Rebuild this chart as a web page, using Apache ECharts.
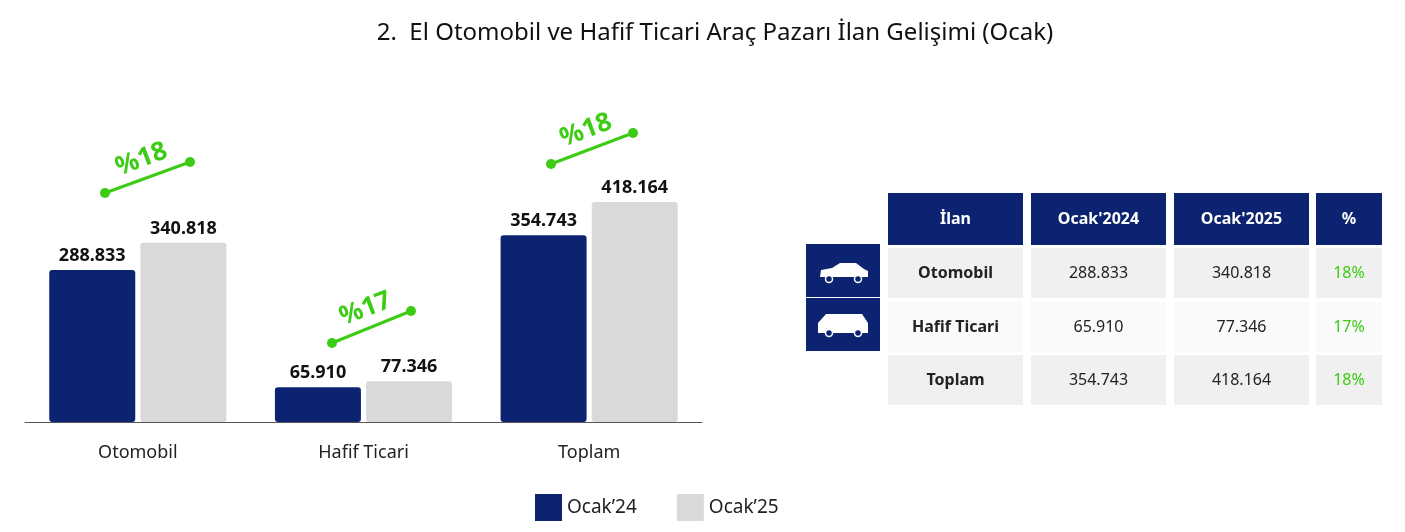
<!DOCTYPE html>
<html><head><meta charset="utf-8">
<script src="https://cdn.jsdelivr.net/npm/echarts@6/dist/echarts.min.js"></script>
<style>html,body{margin:0;background:#fff}#c{width:1405px;height:532px}</style>
</head><body><div id="c"></div>
<script>
// veriler
const categories = ['Otomobil', 'Hafif Ticari', 'Toplam']
const ocak24 = [288833, 65910, 354743]
const ocak25 = [340818, 77346, 418164]
const changes = ['%18', '%17', '%18']
const tableHead = ["İlan", "Ocak'2024", "Ocak'2025", '%']
const tablePct = ['18%', '17%', '18%']

const NAVY = '#0b2370', GREY = '#d9d9d9', GREEN = '#3ccc14'
const fmt = v => v.toLocaleString('de-DE')

let myChart = echarts.init(document.getElementById('c'))

// tablo
const colX = [888, 1031, 1174, 1316], colW = [135, 135, 135, 66]
const rowY = [248, 302, 355], rowH = 50
let g = []
tableHead.forEach((h, i) => {
    g.push({ type: 'rect', shape: { x: colX[i], y: 193, width: colW[i], height: 52 }, style: { fill: NAVY } })
    g.push({ type: 'text', x: colX[i] + colW[i] / 2, y: 219, style: { text: h, fill: '#fff', font: 'bold 16px "Noto Sans"', align: 'center', verticalAlign: 'middle' } })
})
categories.forEach((c, r) => {
    const vals = [c, fmt(ocak24[r]), fmt(ocak25[r]), tablePct[r]]
    vals.forEach((v, i) => {
        g.push({ type: 'rect', shape: { x: colX[i], y: rowY[r], width: colW[i], height: rowH }, style: { fill: r % 2 ? '#fafafa' : '#f0f0f0' } })
        g.push({ type: 'text', x: colX[i] + colW[i] / 2, y: rowY[r] + rowH / 2, style: { text: v, fill: i == 3 ? GREEN : '#222', font: (i == 0 ? 'bold ' : '') + '16px "Noto Sans"', align: 'center', verticalAlign: 'middle' } })
    })
    if (r < 2) {
        const y0 = rowY[r] - 4 + r * 0
        g.push({ type: 'rect', shape: { x: 806, y: y0, width: 74, height: 53 }, style: { fill: NAVY } })
        const cy = y0 + 27
        if (r == 0) {
            g.push({ type: 'polygon', shape: { points: [[820, cy + 6], [821, cy - 1], [832, cy - 3], [840, cy - 8], [856, cy - 8], [864, cy - 2], [868, cy], [868, cy + 6]] }, style: { fill: '#fff' } })
        } else {
            g.push({ type: 'polygon', shape: { points: [[818, cy + 8], [818, cy - 2], [826, cy - 11], [862, cy - 11], [868, cy - 2], [868, cy + 8]] }, style: { fill: '#fff' } })
        }
        g.push({ type: 'circle', shape: { cx: 829, cy: cy + 8, r: 3.5 }, style: { fill: NAVY, stroke: '#fff', lineWidth: 1.5 } })
        g.push({ type: 'circle', shape: { cx: 858, cy: cy + 8, r: 3.5 }, style: { fill: NAVY, stroke: '#fff', lineWidth: 1.5 } })
    }
})

// yeşil oklar
const arrows = [[105, 193, 190, 162], [332, 343, 411, 311], [551, 164, 633, 133]]
arrows.forEach((a, i) => {
    g.push({ type: 'line', shape: { x1: a[0], y1: a[1], x2: a[2], y2: a[3] }, style: { stroke: GREEN, lineWidth: 3 } })
    g.push({ type: 'circle', shape: { cx: a[0], cy: a[1], r: 5 }, style: { fill: GREEN } })
    g.push({ type: 'circle', shape: { cx: a[2], cy: a[3], r: 5 }, style: { fill: GREEN } })
    g.push({ type: 'text', x: (a[0] + a[2]) / 2 - 6, y: (a[1] + a[3]) / 2 - 18, rotation: 0.36, style: { text: changes[i], fill: GREEN, font: 'bold 26px "Noto Sans"', align: 'center', verticalAlign: 'middle' } })
})

myChart.setOption({
    title: { text: '2.  El Otomobil ve Hafif Ticari Araç Pazarı İlan Gelişimi (Ocak)', left: 710, top: 16, textAlign: 'center', textStyle: { fontSize: 24, fontWeight: 'normal', color: '#111', fontFamily: 'Noto Sans' } },
    legend: { bottom: 6, left: 530, itemWidth: 27, itemHeight: 27, itemGap: 40, icon: 'rect', textStyle: { fontSize: 19, color: '#222', fontFamily: 'Noto Sans' }, data: ['Ocak’24', 'Ocak’25'] },
    grid: { left: 25, right: 703, top: 202, bottom: 110, containLabel: false },
    xAxis: { type: 'category', data: categories, axisTick: { show: false }, axisLine: { lineStyle: { color: '#555' } }, axisLabel: { fontSize: 18, color: '#222', margin: 22, fontFamily: 'Noto Sans' } },
    yAxis: { type: 'value', min: 0, max: 418164, show: false },
    series: [
        { name: 'Ocak’24', type: 'bar', data: ocak24, barWidth: 86, barGap: '6%', itemStyle: { color: NAVY, borderRadius: 3 }, label: { show: true, position: 'top', formatter: p => fmt(p.value), fontSize: 18, fontWeight: 'bold', color: '#111', fontFamily: 'Noto Sans' } },
        { name: 'Ocak’25', type: 'bar', data: ocak25, barWidth: 86, itemStyle: { color: GREY, borderRadius: 3 }, label: { show: true, position: 'top', formatter: p => fmt(p.value), fontSize: 18, fontWeight: 'bold', color: '#111', fontFamily: 'Noto Sans' } }
    ],
    graphic: g
})
</script></body></html>
